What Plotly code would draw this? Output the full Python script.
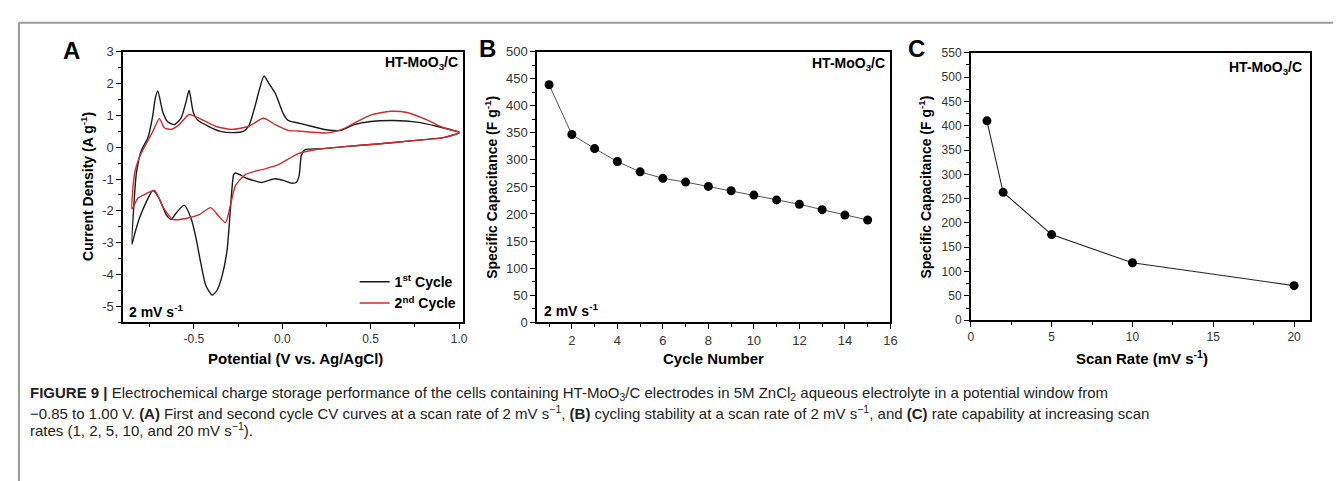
import plotly.graph_objects as go

# ---------------- Data ----------------
# Panel A: CV curves (potential V vs Ag/AgCl, current density A/g)
c1_up_v = [-0.85, -0.837, -0.825, -0.797, -0.76, -0.732, -0.719, -0.704, -0.676, -0.648, -0.611, -0.573,
           -0.545, -0.527, -0.504, -0.48, -0.415, -0.35, -0.28, -0.22, -0.19, -0.153, -0.134, -0.103,
           -0.075, -0.04, -0.022, 0.006, 0.034, 0.09, 0.164, 0.258, 0.332, 0.407, 0.50, 0.631, 0.762,
           0.874, 1.0]
c1_up_i = [-3.05, -1.62, -0.81, -0.1, 0.3, 1.01, 1.52, 1.77, 1.11, 0.8, 0.71, 0.91,
           1.41, 1.79, 1.11, 0.86, 0.65, 0.5, 0.46, 0.5, 0.66, 1.31, 1.72, 2.24,
           2.0, 1.7, 1.45, 1.05, 0.84, 0.76, 0.66, 0.54, 0.53, 0.71, 0.81, 0.84, 0.79,
           0.66, 0.47]
c1_dn_v = [1.0, 0.911, 0.725, 0.538, 0.351, 0.22, 0.127, 0.108, 0.095, 0.08, 0.052, 0.01, -0.041,
           -0.08, -0.116, -0.16, -0.209, -0.24, -0.265, -0.275, -0.293, -0.312, -0.34, -0.368,
           -0.396, -0.433, -0.461, -0.489, -0.517, -0.555, -0.60, -0.629, -0.657, -0.695, -0.732,
           -0.769, -0.807, -0.835, -0.85]
c1_dn_i = [0.45, 0.30, 0.20, 0.10, 0.02, -0.05, -0.08, -0.25, -0.9, -1.1, -1.13, -1.05, -0.99,
           -1.05, -1.11, -1.05, -0.96, -0.86, -0.81, -0.86, -1.92, -3.23, -4.04, -4.49,
           -4.65, -4.34, -3.64, -2.83, -2.22, -1.82, -2.07, -2.27, -2.12, -1.62, -1.36,
           -1.72, -2.22, -2.73, -3.05]
c2_up_v = [-0.85, -0.835, -0.807, -0.77, -0.732, -0.695, -0.667, -0.629, -0.583, -0.527, -0.47,
           -0.377, -0.284, -0.19, -0.106, -0.04, 0.034, 0.09, 0.258, 0.351, 0.407, 0.50, 0.612,
           0.706, 0.818, 0.911, 1.0]
c2_up_i = [-1.94, -0.81, -0.3, 0.1, 0.5, 0.9, 0.61, 0.56, 0.71, 1.03, 0.91,
           0.66, 0.56, 0.66, 0.91, 0.71, 0.53, 0.51, 0.45, 0.59, 0.76, 1.01, 1.13,
           1.09, 0.86, 0.61, 0.47]
c2_dn_v = [1.0, 0.911, 0.725, 0.538, 0.351, 0.22, 0.09, -0.022, -0.097, -0.15, -0.209, -0.265,
           -0.293, -0.321, -0.359, -0.405, -0.47, -0.545, -0.62, -0.676, -0.723, -0.77, -0.816, -0.85]
c2_dn_i = [0.45, 0.30, 0.20, 0.10, 0.02, -0.05, -0.2, -0.55, -0.68, -0.75, -0.86, -1.21,
           -1.82, -2.37, -2.17, -1.9, -2.12, -2.24, -2.27, -1.87, -1.36, -1.46, -1.6, -1.94]

# Panel B: cycling stability
cycle_number = list(range(1, 16))
cycle_capacitance = [439, 347, 321, 297, 278, 266, 259, 251, 243, 235, 226, 218, 208, 198, 189]

# Panel C: rate capability
scan_rate = [1, 2, 5, 10, 20]
rate_capacitance = [410, 263, 176, 118, 71]

# Tick labels
a_xticks = [-0.5, 0.0, 0.5, 1.0]
a_xticklabels = ["-0.5", "0.0", "0.5", "1.0"]
a_yticks = [-5, -4, -3, -2, -1, 0, 1, 2, 3]
a_yticklabels = ["-5", "-4", "-3", "-2", "-1", "0", "1", "2", "3"]
b_xticks = [2, 4, 6, 8, 10, 12, 14, 16]
b_yticks = list(range(0, 501, 50))
c_xticks = [0, 5, 10, 15, 20]
c_yticks = list(range(0, 551, 50))

# ---------------- Figure ----------------
W, H = 1341, 481
def px(x):
    return x / W
def py(y):
    return 1 - y / H

BLACK = "#1a1a1a"
RED = "#d42a2a"
FONT = "Liberation Sans, Arial, sans-serif"

fig = go.Figure()

fig.add_trace(go.Scatter(x=c1_up_v + c1_dn_v, y=c1_up_i + c1_dn_i, mode="lines",
                         line=dict(color=BLACK, width=1.4, shape="spline", smoothing=0.6),
                         name="<b>1<sup>st</sup> Cycle</b>", xaxis="x", yaxis="y"))
fig.add_trace(go.Scatter(x=c2_up_v + c2_dn_v, y=c2_up_i + c2_dn_i, mode="lines",
                         line=dict(color=RED, width=1.4, shape="spline", smoothing=0.6),
                         name="<b>2<sup>nd</sup> Cycle</b>", xaxis="x", yaxis="y"))
fig.add_trace(go.Scatter(x=cycle_number, y=cycle_capacitance, mode="lines+markers",
                         line=dict(color="#555555", width=1),
                         marker=dict(color="black", size=9),
                         showlegend=False, xaxis="x2", yaxis="y2"))
fig.add_trace(go.Scatter(x=scan_rate, y=rate_capacitance, mode="lines+markers",
                         line=dict(color="#222222", width=1.1),
                         marker=dict(color="black", size=9),
                         showlegend=False, xaxis="x3", yaxis="y3"))

def axis(domain, rng, tickvals, ticktext=None, minor_vals=None, anchor=None, fsize=12):
    d = dict(domain=domain, range=rng, showline=True, linecolor="black", linewidth=1.6,
             mirror=True, ticks="outside", ticklen=5, tickwidth=1.3, tickcolor="black",
             showgrid=False, zeroline=False, anchor=anchor,
             tickfont=dict(family=FONT, size=fsize, color="#333333"),
             tickmode="array", tickvals=tickvals)
    if ticktext is not None:
        d["ticktext"] = ticktext
    if minor_vals is not None:
        d["minor"] = dict(tickmode="array", tickvals=minor_vals, ticks="outside",
                          ticklen=3, tickwidth=1.1, tickcolor="black", showgrid=False)
    return d

a_xdom = [px(113), px(455)]
b_xdom = [px(530), px(886)]
c_xdom = [px(967), px(1309)]
ab_ydom = [py(317), py(38)]
c_ydom = [py(315), py(39)]

fig.update_layout(
    width=W, height=H,
    margin=dict(l=0, r=0, t=0, b=0),
    paper_bgcolor="white", plot_bgcolor="white",
    xaxis=axis(a_xdom, [-0.90, 1.02], a_xticks, a_xticklabels,
               minor_vals=[-0.75, -0.25, 0.25, 0.75], anchor="y", fsize=12),
    yaxis=axis(ab_ydom, [-5.5, 3.0], a_yticks, a_yticklabels,
               minor_vals=[-5.5 + 0.5 * k for k in range(18)], anchor="x", fsize=13),
    xaxis2=axis(b_xdom, [0.47, 16.0], b_xticks,
                minor_vals=[1, 3, 5, 7, 9, 11, 13, 15], anchor="y2", fsize=13),
    yaxis2=axis(ab_ydom, [0, 500], b_yticks,
                minor_vals=[25 + 50 * k for k in range(10)], anchor="x2", fsize=13),
    xaxis3=axis(c_xdom, [0, 21], c_xticks,
                minor_vals=[2.5, 7.5, 12.5, 17.5], anchor="y3", fsize=12),
    yaxis3=axis(c_ydom, [0, 550], c_yticks,
                minor_vals=[25 + 50 * k for k in range(11)], anchor="x3", fsize=12),
    showlegend=True,
    legend=dict(x=px(454), y=py(314), xanchor="right", yanchor="bottom",
                bgcolor="rgba(0,0,0,0)", font=dict(family=FONT, size=14, color="black"),
                itemwidth=30, tracegroupgap=0),
)

ann = []
def text(x, y, s, size=13, bold=True, xanchor="center", yanchor="middle", angle=0, color="black"):
    ann.append(dict(x=px(x), y=py(y), xref="paper", yref="paper", text=(f"<b>{s}</b>" if bold else s),
                    showarrow=False, xanchor=xanchor, yanchor=yanchor, textangle=angle,
                    font=dict(family=FONT, size=size, color=color)))

# panel letters
text(61, 37, "A", size=24)
text(480, 35, "B", size=24)
text(912, 35, "C", size=24)
# sample labels
text(452, 50, "HT-MoO<sub>3</sub>/C", size=14, xanchor="right")
text(883, 51, "HT-MoO<sub>3</sub>/C", size=14, xanchor="right")
text(1303, 55, "HT-MoO<sub>3</sub>/C", size=14, xanchor="right")
text(117, 306, "2 mV s<sup>-1</sup>", size=14, xanchor="left")
text(535, 305, "2 mV s<sup>-1</sup>", size=14, xanchor="left")
# axis titles
text(287, 355, "Potential (V vs. Ag/AgCl)", size=15)
text(77, 177, "Current Density (A g<sup>-1</sup>)", size=14, angle=-90)
text(708, 355, "Cycle Number", size=15)
text(484, 178, "Specific Capacitance (F g<sup>-1</sup>)", size=14, angle=-90)
text(1139, 354, "Scan Rate (mV s<sup>-1</sup>)", size=15)
text(921, 178, "Specific Capacitance (F g<sup>-1</sup>)", size=14, angle=-90)

# caption
cap1 = ("<b>FIGURE 9 |</b> Electrochemical charge storage performance of the cells containing "
        "HT-MoO<sub>3</sub>/C electrodes in 5M ZnCl<sub>2</sub> aqueous electrolyte in a potential window from")
cap2 = ("\u22120.85 to 1.00 V. <b>(A)</b> First and second cycle CV curves at a scan rate of 2 mV s<sup>\u22121</sup>, "
        "<b>(B)</b> cycling stability at a scan rate of 2 mV s<sup>\u22121</sup>, and <b>(C)</b> rate capability at increasing scan")
cap3 = "rates (1, 2, 5, 10, and 20 mV s<sup>\u22121</sup>)."
text(17, 391, cap1, size=15, bold=False, xanchor="left", color="#222222")
text(17, 410, cap2, size=15, bold=False, xanchor="left", color="#222222")
text(17, 428, cap3, size=15, bold=False, xanchor="left", color="#222222")

fig.update_layout(annotations=ann)

# figure frame
fig.add_shape(type="line", xref="paper", yref="paper", x0=px(8), x1=1.0, y0=py(8), y1=py(8),
              line=dict(color="#9a9a9a", width=2))
fig.add_shape(type="line", xref="paper", yref="paper", x0=px(8), x1=px(8), y0=0, y1=py(8),
              line=dict(color="#9a9a9a", width=2))

fig.write_html("out.html")
